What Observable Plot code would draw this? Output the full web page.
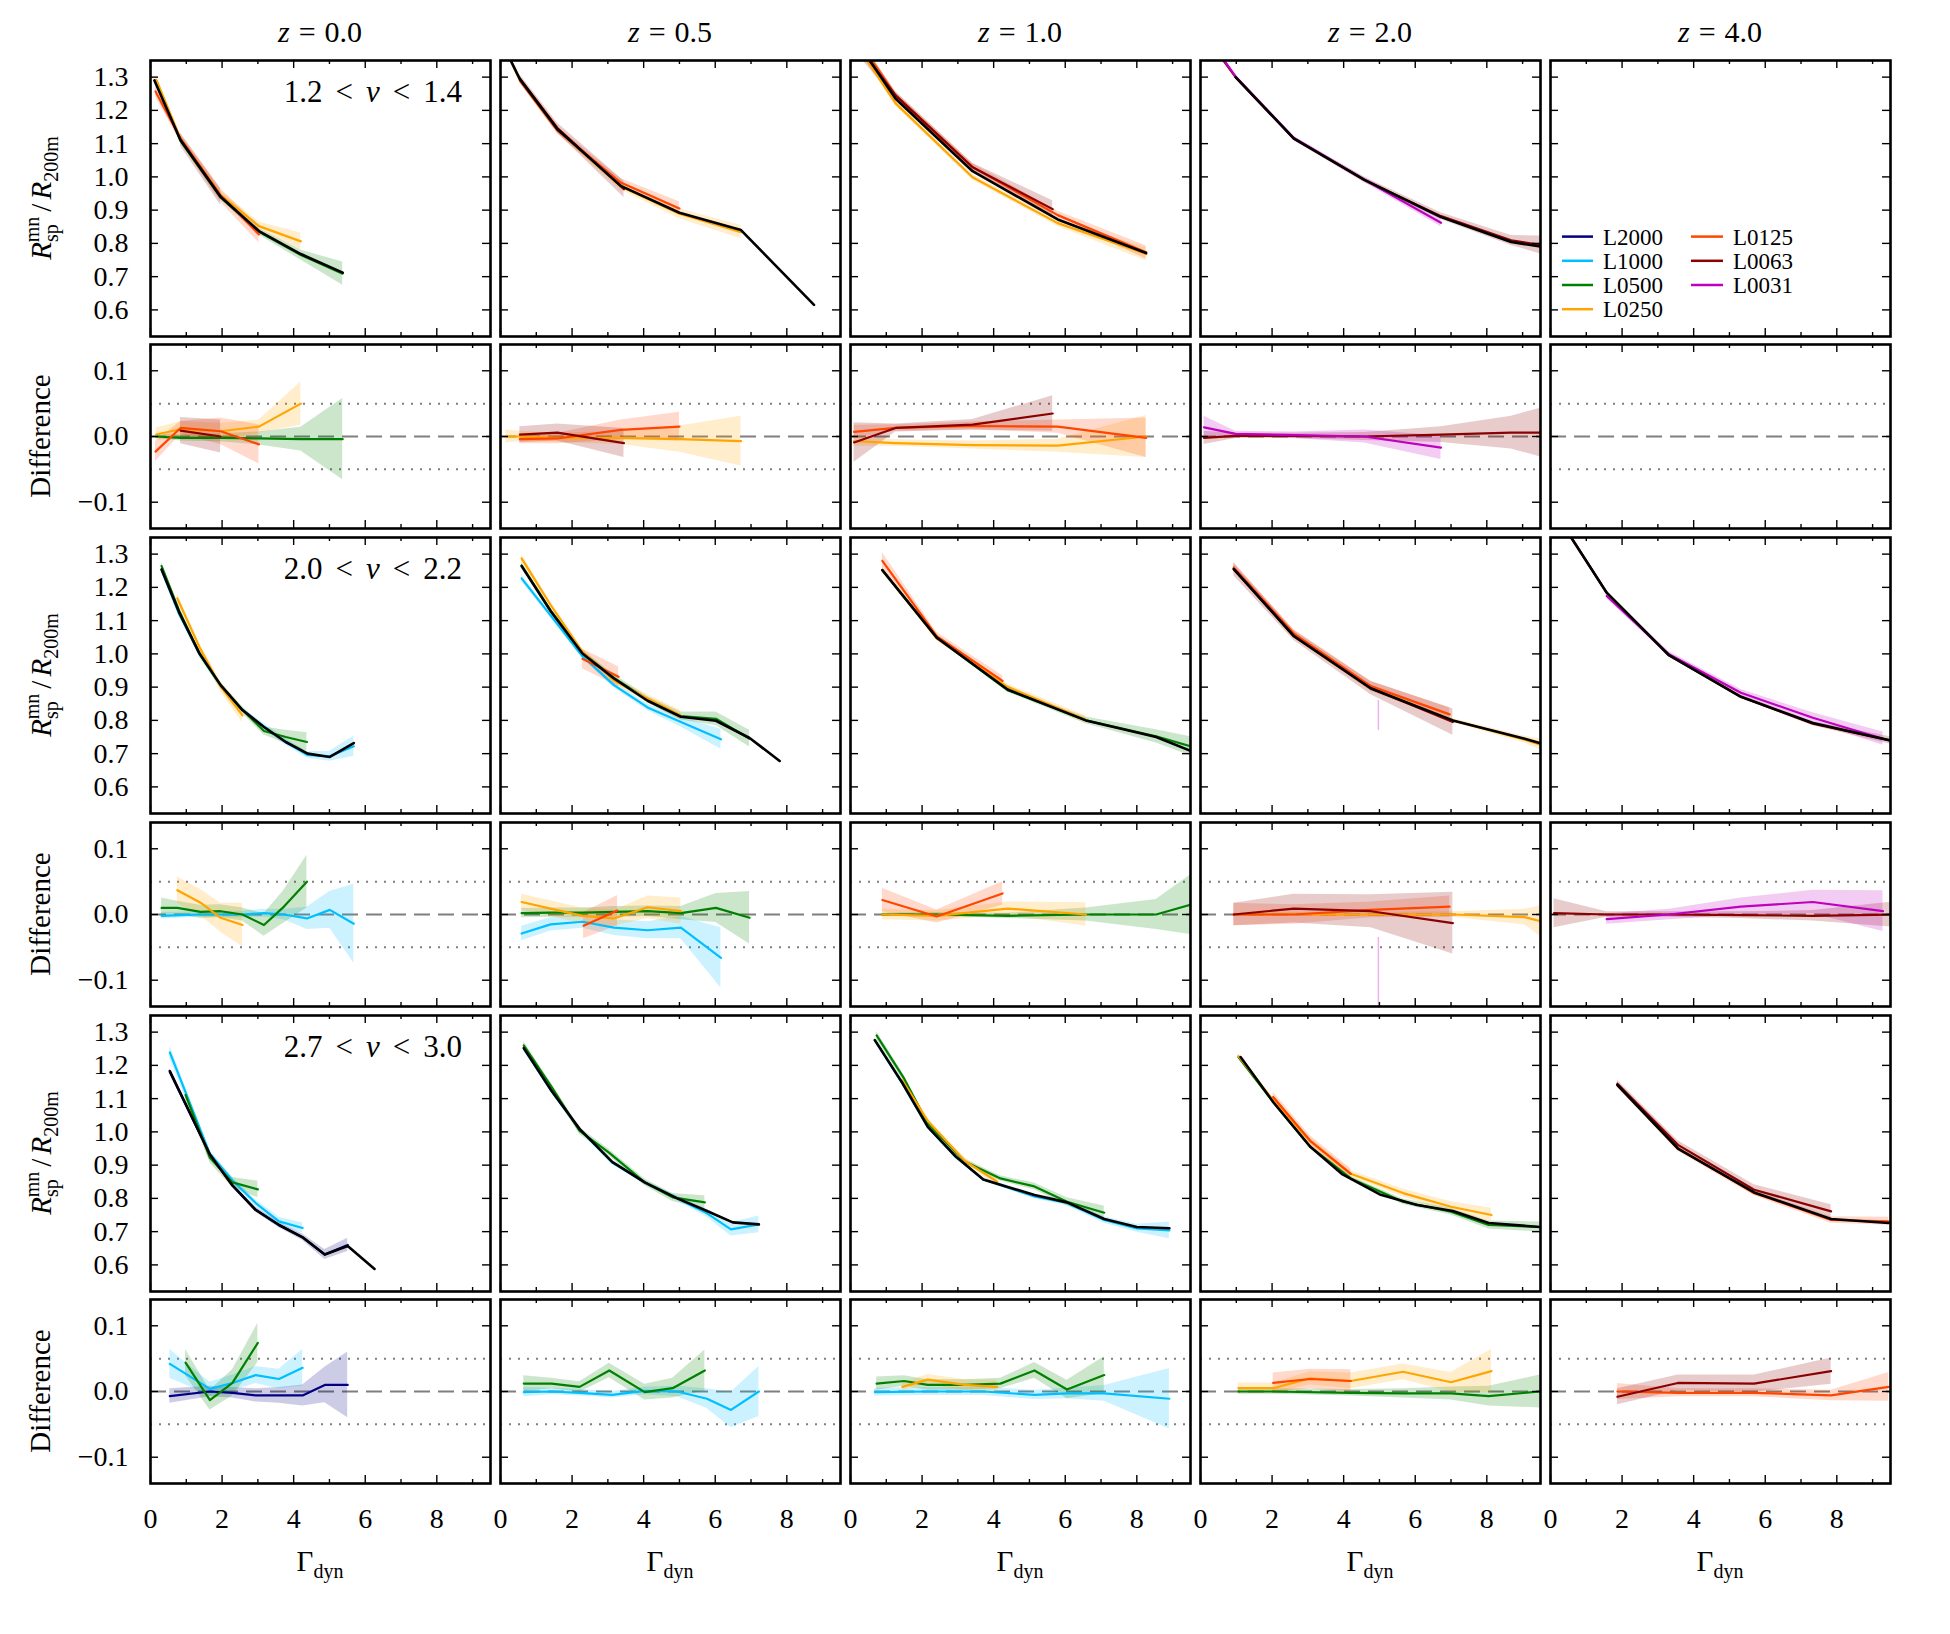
<!DOCTYPE html>
<html>
<head>
<meta charset="utf-8">
<script src="https://cdn.jsdelivr.net/npm/d3@7"></script>
<script src="https://cdn.jsdelivr.net/npm/@observablehq/plot@0.6"></script>
<style>
  body { margin: 0; background: #fff; }
  #fig { position: relative; width: 1950px; height: 1634px; background: #fff;
         font-family: "Liberation Serif", "DejaVu Serif", serif; }
  #fig svg { position: absolute; }
</style>
</head>
<body>
<div id="fig"></div>
<script>
// ---- categories and labels ----
const simNames  = ["L2000", "L1000", "L0500", "L0250", "L0125", "L0063", "L0031"];
const simColors = ["#000080", "#00bfff", "#008000", "#ffa500", "#ff4500", "#8b0000", "#bf00bf"];
const redshifts = ["0.0", "0.5", "1.0", "2.0", "4.0"];
const nuBins    = [["1.2", "1.4"], ["2.0", "2.2"], ["2.7", "3.0"]];
const ratioTicks = [0.6, 0.7, 0.8, 0.9, 1.0, 1.1, 1.2, 1.3];
const diffTicks  = [-0.1, 0.0, 0.1];
const gammaMajor = [0, 2, 4, 6, 8];
const gammaMinor = [1, 3, 5, 7, 9];
const gammaDomain = [0, 9.5];
const ratioDomain = [0.52, 1.35];
const diffDomain  = [-0.14, 0.14];

// Each series: [simulation, [[Gamma_dyn, value, half-width of band], ...]]
// "all" is the combined black curve (no band). Curves are drawn in listed order.

// ---- 1.2 < nu < 1.4 ----
const ratio_nu1_z00 = [
  ["L0500", [[0.16,1.289,0.005],[0.84,1.108,0.006],[1.96,0.938,0.007],[3.03,0.835,0.01],[4.2,0.765,0.015],[5.37,0.709,0.035]]],
  ["L0250", [[0.16,1.292,0.01],[0.84,1.115,0.012],[1.96,0.946,0.012],[3.03,0.852,0.012],[4.2,0.806,0.025]]],
  ["L0125", [[0.14,1.257,0.015],[0.84,1.115,0.012],[1.96,0.944,0.02],[3.03,0.827,0.025]]],
  ["L0063", [[0.84,1.112,0.02],[1.96,0.94,0.025]]],
  ["all",   [[0.11,1.29],[0.84,1.11],[1.96,0.94],[3.03,0.837],[4.2,0.768],[5.37,0.712]]]
];
const diff_nu1_z00 = [
  ["L0500", [[0.16,0,0.003],[0.84,-0.002,0.005],[1.96,-0.002,0.006],[3.03,-0.003,0.01],[4.2,-0.004,0.018],[5.37,-0.004,0.062]]],
  ["L0250", [[0.16,0.003,0.01],[0.84,0.011,0.012],[1.96,0.008,0.012],[3.03,0.015,0.01],[4.2,0.05,0.033]]],
  ["L0125", [[0.14,-0.023,0.015],[0.84,0.013,0.01],[1.96,0.008,0.02],[3.03,-0.012,0.03]]],
  ["L0063", [[0.84,0.009,0.02],[1.96,0.0,0.025]]]
];
const ratio_nu1_z05 = [
  ["L0250", [[0.15,1.38,0.01],[0.54,1.292,0.01],[1.59,1.142,0.01],[3.36,0.971,0.01],[5.0,0.889,0.015],[6.72,0.834,0.02]]],
  ["L0125", [[0.54,1.29,0.008],[1.59,1.14,0.01],[3.36,0.983,0.012],[5.0,0.905,0.02]]],
  ["L0063", [[0.54,1.296,0.012],[1.59,1.147,0.015],[3.45,0.963,0.025]]],
  ["all",   [[0.15,1.38],[0.54,1.294],[1.59,1.143],[3.36,0.973],[5.0,0.892],[6.72,0.84],[8.76,0.615]]]
];
const diff_nu1_z05 = [
  ["L0250", [[0.15,0,0.01],[0.54,0,0.008],[1.59,-0.002,0.007],[3.36,-0.002,0.01],[5.0,-0.004,0.02],[6.72,-0.007,0.038]]],
  ["L0125", [[0.54,-0.004,0.007],[1.59,-0.003,0.008],[3.36,0.01,0.015],[5.0,0.015,0.022]]],
  ["L0063", [[0.54,0.003,0.012],[1.59,0.006,0.013],[3.45,-0.01,0.022]]]
];
const ratio_nu1_z10 = [
  ["L0250", [[0.1,1.41,0.01],[1.26,1.221,0.008],[3.41,0.999,0.008],[5.79,0.861,0.01],[8.26,0.768,0.02]]],
  ["L0125", [[0.1,1.43,0.01],[1.26,1.245,0.01],[3.41,1.03,0.01],[5.79,0.885,0.012],[8.26,0.773,0.02]]],
  ["L0063", [[0.1,1.41,0.03],[1.26,1.245,0.012],[3.41,1.029,0.012],[5.65,0.903,0.025]]],
  ["all",   [[0.1,1.42],[1.26,1.235],[3.41,1.017],[5.79,0.872],[8.26,0.771]]]
];
const diff_nu1_z10 = [
  ["L0250", [[0.1,-0.007,0.008],[1.26,-0.01,0.005],[3.41,-0.013,0.006],[5.79,-0.014,0.01],[8.26,0,0.032]]],
  ["L0125", [[0.1,0.007,0.01],[1.26,0.013,0.005],[3.41,0.016,0.006],[5.79,0.015,0.01],[8.26,-0.002,0.03]]],
  ["L0063", [[0.1,-0.009,0.03],[1.26,0.013,0.006],[3.41,0.018,0.008],[5.65,0.035,0.027]]]
];
const ratio_nu1_z20 = [
  ["L0063", [[0.1,1.43,0.01],[0.98,1.30,0.005],[2.61,1.115,0.006],[4.58,0.991,0.008],[6.72,0.882,0.01],[8.68,0.809,0.015],[9.7,0.792,0.03]]],
  ["L0031", [[0.1,1.435,0.01],[0.98,1.302,0.005],[2.61,1.117,0.005],[4.58,0.991,0.008],[6.72,0.862,0.012]]],
  ["all",   [[0.98,1.30],[2.61,1.115],[4.58,0.991],[6.72,0.879],[8.68,0.804],[9.7,0.787]]]
];
const diff_nu1_z20 = [
  ["L0063", [[0.1,-0.002,0.01],[0.98,0.001,0.004],[2.61,0.001,0.004],[4.58,0,0.006],[6.72,0.003,0.012],[8.68,0.006,0.025],[9.7,0.006,0.04]]],
  ["L0031", [[0.1,0.014,0.017],[0.98,0.004,0.004],[2.61,0.002,0.005],[4.58,0,0.01],[6.72,-0.017,0.018]]]
];
const ratio_nu1_z40 = [];
const diff_nu1_z40 = [];

// ---- 2.0 < nu < 2.2 ----
const ratio_nu2_z00 = [
  ["L1000", [[0.31,1.252,0.005],[0.8,1.12,0.005],[1.37,1.0,0.005],[1.96,0.905,0.006],[2.57,0.831,0.006],[3.17,0.781,0.01],[3.78,0.735,0.01],[4.39,0.696,0.01],[5.01,0.692,0.015],[5.68,0.722,0.03]]],
  ["L0500", [[0.31,1.264,0.012],[0.8,1.13,0.01],[1.37,1.0,0.01],[1.96,0.905,0.01],[2.57,0.831,0.01],[3.17,0.768,0.012],[3.78,0.75,0.02],[4.37,0.735,0.028]]],
  ["L0250", [[0.75,1.167,0.012],[1.37,1.02,0.012],[1.96,0.902,0.015],[2.57,0.815,0.022]]],
  ["all",   [[0.31,1.254],[0.8,1.125],[1.37,1.001],[1.96,0.906],[2.57,0.831],[3.17,0.78],[3.78,0.735],[4.39,0.70],[5.01,0.69],[5.68,0.732]]]
];
const diff_nu2_z00 = [
  ["L1000", [[0.31,-0.002,0.005],[1.4,0,0.004],[2.57,0,0.005],[3.17,0.002,0.006],[3.73,0,0.008],[4.37,-0.006,0.017],[5.01,0.007,0.028],[5.68,-0.014,0.06]]],
  ["L0500", [[0.31,0.01,0.015],[0.75,0.01,0.01],[1.4,0.004,0.01],[1.96,0.005,0.01],[2.57,0,0.01],[3.17,-0.016,0.017],[3.73,0.012,0.025],[4.37,0.05,0.04]]],
  ["L0250", [[0.75,0.037,0.02],[1.4,0.018,0.02],[1.96,-0.005,0.022],[2.57,-0.016,0.033]]]
];
const ratio_nu2_z05 = [
  ["L1000", [[0.59,1.227,0.01],[1.4,1.116,0.008],[2.29,0.993,0.008],[3.17,0.906,0.008],[4.11,0.839,0.01],[5.04,0.795,0.015],[6.16,0.743,0.03]]],
  ["L0500", [[0.59,1.266,0.008],[1.4,1.13,0.008],[2.29,1.003,0.008],[3.17,0.928,0.01],[4.11,0.862,0.01],[5.04,0.813,0.012],[6.02,0.805,0.02],[6.96,0.745,0.025]]],
  ["L0250", [[0.59,1.287,0.012],[1.4,1.147,0.01],[2.29,1.006,0.01],[3.17,0.92,0.01],[4.11,0.866,0.012],[5.04,0.815,0.015]]],
  ["L0125", [[2.29,0.985,0.03],[3.3,0.931,0.03]]],
  ["all",   [[0.59,1.264],[1.4,1.129],[2.29,1.001],[3.17,0.926],[4.11,0.859],[5.04,0.811],[6.02,0.799],[6.96,0.747],[7.8,0.678]]]
];
const diff_nu2_z05 = [
  ["L1000", [[0.59,-0.029,0.011],[1.4,-0.015,0.01],[2.29,-0.011,0.01],[3.17,-0.02,0.012],[4.11,-0.024,0.013],[5.04,-0.02,0.017],[6.16,-0.066,0.046]]],
  ["L0500", [[0.59,0.002,0.007],[1.4,0.003,0.007],[2.29,0.003,0.007],[3.17,0.004,0.008],[4.11,0.005,0.008],[5.04,0.002,0.01],[6.02,0.01,0.022],[6.96,-0.005,0.04]]],
  ["L0250", [[0.59,0.019,0.012],[1.4,0.009,0.012],[2.29,-0.002,0.012],[3.17,-0.006,0.012],[4.11,0.011,0.017],[5.04,0.005,0.02]]],
  ["L0125", [[2.32,-0.017,0.02],[3.27,0.006,0.023]]]
];
const ratio_nu2_z10 = [
  ["L0500", [[0.89,1.252,0.005],[2.41,1.049,0.005],[4.39,0.891,0.006],[6.58,0.80,0.01],[8.54,0.752,0.02],[9.7,0.716,0.03]]],
  ["L0250", [[0.89,1.252,0.005],[2.41,1.047,0.006],[4.39,0.901,0.008],[6.58,0.802,0.012]]],
  ["L0125", [[0.89,1.28,0.025],[2.41,1.053,0.012],[4.25,0.919,0.015]]],
  ["all",   [[0.89,1.252],[2.41,1.049],[4.39,0.893],[6.58,0.80],[8.54,0.75],[9.7,0.70]]]
];
const diff_nu2_z10 = [
  ["L0500", [[0.89,0,0.002],[2.41,0,0.003],[4.39,-0.002,0.004],[6.58,0,0.01],[8.54,0,0.023],[9.7,0.018,0.05]]],
  ["L0250", [[0.89,0,0.008],[2.41,-0.002,0.008],[4.39,0.009,0.01],[6.58,0,0.018]]],
  ["L0125", [[0.89,0.022,0.018],[2.41,-0.003,0.01],[4.25,0.032,0.018]]]
];
const ratio_nu2_z20 = [
  ["L0250", [[0.93,1.255,0.005],[2.61,1.053,0.005],[4.76,0.896,0.005],[7.05,0.80,0.006],[9.06,0.742,0.01],[9.7,0.72,0.02]]],
  ["L0125", [[0.93,1.26,0.012],[2.61,1.061,0.012],[4.76,0.903,0.015],[6.96,0.818,0.02]]],
  ["L0063", [[0.93,1.255,0.02],[2.61,1.055,0.015],[4.76,0.897,0.02],[7.05,0.795,0.04]]],
  ["L0031", [[4.97,0.815,0.045]]],
  ["all",   [[0.93,1.255],[2.61,1.053],[4.76,0.896],[7.05,0.80],[9.06,0.745],[9.7,0.725]]]
];
const diff_nu2_z20 = [
  ["L0250", [[0.93,0,0.002],[2.61,0,0.003],[4.76,0,0.003],[7.05,0,0.004],[9.06,-0.004,0.012],[9.7,-0.013,0.028]]],
  ["L0125", [[0.93,0,0.017],[2.61,0,0.015],[4.76,0.007,0.012],[6.96,0.012,0.016]]],
  ["L0063", [[0.93,0,0.017],[2.61,0.009,0.022],[4.76,0.005,0.025],[7.05,-0.013,0.047]]],
  ["L0031", [[4.97,-0.1,0.065]]]
];
const ratio_nu2_z40 = [
  ["L0063", [[0.1,1.43,0.01],[1.57,1.184,0.005],[3.31,0.996,0.005],[5.32,0.871,0.005],[7.33,0.79,0.006],[9.7,0.735,0.012]]],
  ["L0031", [[1.57,1.174,0.008],[3.31,0.999,0.008],[5.32,0.883,0.01],[7.33,0.808,0.015],[9.29,0.745,0.02]]],
  ["all",   [[0.1,1.43],[1.57,1.184],[3.31,0.996],[5.32,0.871],[7.33,0.792],[9.7,0.735]]]
];
const diff_nu2_z40 = [
  ["L0063", [[0.1,0.002,0.022],[1.57,0,0.004],[3.31,0,0.004],[5.32,-0.001,0.005],[7.33,-0.002,0.008],[9.7,0,0.02]]],
  ["L0031", [[1.57,-0.007,0.008],[3.31,0,0.008],[5.32,0.012,0.013],[7.33,0.019,0.018],[9.29,0.005,0.031]]]
];

// ---- 2.7 < nu < 3.0 ----
const ratio_nu3_z00 = [
  ["L2000", [[0.54,1.18,0.006],[1.66,0.932,0.006],[2.29,0.839,0.006],[2.94,0.766,0.008],[3.59,0.72,0.008],[4.25,0.683,0.01],[4.87,0.631,0.015],[5.51,0.66,0.02]]],
  ["L1000", [[0.54,1.239,0.02],[1.66,0.934,0.01],[2.29,0.854,0.01],[2.94,0.786,0.01],[3.59,0.731,0.012],[4.25,0.711,0.015]]],
  ["L0500", [[0.98,1.111,0.015],[1.66,0.922,0.015],[2.29,0.848,0.015],[3.0,0.827,0.025]]],
  ["all",   [[0.54,1.183],[1.66,0.932],[2.29,0.839],[2.94,0.765],[3.59,0.72],[4.25,0.683],[4.87,0.631],[5.51,0.657],[6.26,0.588]]]
];
const diff_nu3_z00 = [
  ["L2000", [[0.54,-0.007,0.011],[1.66,0,0.008],[2.29,-0.002,0.008],[2.94,-0.006,0.01],[3.59,-0.006,0.012],[4.25,-0.006,0.016],[4.87,0.01,0.027],[5.51,0.01,0.05]]],
  ["L1000", [[0.54,0.042,0.022],[1.66,0.004,0.01],[2.29,0.013,0.012],[2.94,0.025,0.013],[3.59,0.019,0.015],[4.25,0.036,0.028]]],
  ["L0500", [[0.98,0.044,0.02],[1.66,-0.013,0.015],[2.29,0.013,0.02],[3.0,0.074,0.03]]]
];
const ratio_nu3_z05 = [
  ["L1000", [[0.65,1.25,0.005],[1.43,1.122,0.005],[2.21,1.007,0.005],[3.12,0.908,0.005],[4.03,0.848,0.006],[4.94,0.80,0.008],[5.77,0.755,0.012],[6.44,0.707,0.02],[7.22,0.722,0.025]]],
  ["L0500", [[0.65,1.26,0.012],[1.43,1.135,0.01],[2.21,1.003,0.01],[3.04,0.937,0.01],[4.03,0.848,0.01],[4.81,0.803,0.012],[5.71,0.788,0.02]]],
  ["all",   [[0.65,1.252],[1.43,1.123],[2.21,1.009],[3.12,0.91],[4.03,0.848],[4.94,0.80],[5.77,0.762],[6.49,0.728],[7.22,0.722]]]
];
const diff_nu3_z05 = [
  ["L1000", [[0.65,-0.001,0.007],[1.43,0,0.005],[2.21,-0.002,0.005],[3.12,-0.005,0.005],[4.03,0.001,0.006],[4.94,0,0.008],[5.77,-0.011,0.015],[6.44,-0.028,0.027],[7.22,0,0.038]]],
  ["L0500", [[0.65,0.012,0.012],[1.43,0.012,0.008],[2.21,0.007,0.008],[3.04,0.032,0.011],[4.03,-0.001,0.012],[4.81,0.005,0.015],[5.71,0.032,0.031]]]
];
const ratio_nu3_z10 = [
  ["L1000", [[0.68,1.275,0.005],[1.45,1.146,0.005],[2.16,1.015,0.005],[2.94,0.925,0.005],[3.71,0.857,0.005],[5.14,0.806,0.007],[6.05,0.786,0.008],[7.09,0.735,0.01],[8.0,0.71,0.012],[8.91,0.704,0.025]]],
  ["L0500", [[0.73,1.29,0.012],[1.5,1.16,0.01],[2.16,1.025,0.008],[3.2,0.91,0.008],[4.19,0.86,0.008],[5.14,0.836,0.01],[6.05,0.79,0.012],[7.09,0.757,0.02]]],
  ["L0250", [[1.45,1.155,0.008],[2.16,1.033,0.008],[3.19,0.913,0.01],[4.1,0.85,0.012]]],
  ["all",   [[0.68,1.276],[1.45,1.147],[2.16,1.015],[2.94,0.926],[3.71,0.857],[5.14,0.81],[6.05,0.788],[7.09,0.738],[8.0,0.714],[8.91,0.71]]]
];
const diff_nu3_z10 = [
  ["L1000", [[0.68,-0.001,0.006],[2.16,0,0.006],[3.71,0,0.006],[5.14,-0.005,0.007],[6.05,-0.003,0.008],[7.09,-0.003,0.012],[8.91,-0.011,0.046]]],
  ["L0500", [[0.73,0.012,0.01],[1.5,0.016,0.008],[2.16,0.01,0.008],[3.2,0.01,0.008],[4.19,0.012,0.008],[5.14,0.032,0.012],[6.05,0.003,0.014],[7.09,0.025,0.028]]],
  ["L0250", [[1.45,0.007,0.006],[2.16,0.018,0.008],[3.19,0.01,0.008],[4.1,0.007,0.01]]]
];
const ratio_nu3_z20 = [
  ["L0500", [[1.06,1.225,0.005],[2.03,1.09,0.005],[3.06,0.956,0.005],[4.2,0.86,0.006],[5.66,0.79,0.008],[7.0,0.76,0.01],[8.05,0.72,0.012],[9.48,0.714,0.015]]],
  ["L0250", [[1.06,1.228,0.008],[2.03,1.095,0.008],[3.06,0.972,0.01],[4.2,0.874,0.01],[5.66,0.816,0.012],[7.0,0.775,0.015],[8.13,0.75,0.02]]],
  ["L0125", [[2.03,1.105,0.015],[3.06,0.974,0.015],[4.2,0.874,0.015]]],
  ["all",   [[1.12,1.225],[2.03,1.09],[3.06,0.956],[3.97,0.872],[5.01,0.812],[6.05,0.78],[7.05,0.762],[8.05,0.726],[9.48,0.714]]]
];
const diff_nu3_z20 = [
  ["L0500", [[1.06,0,0.004],[2.03,0,0.004],[4.2,-0.002,0.005],[5.66,-0.003,0.007],[7.0,-0.003,0.01],[8.05,-0.007,0.015],[9.48,0,0.025]]],
  ["L0250", [[1.06,0.005,0.008],[2.03,0.005,0.008],[3.06,0.02,0.01],[4.2,0.016,0.012],[5.66,0.03,0.012],[7.0,0.014,0.015],[8.13,0.031,0.033]]],
  ["L0125", [[2.03,0.013,0.015],[3.06,0.019,0.015],[4.2,0.016,0.017]]]
];
const ratio_nu3_z40 = [
  ["L0125", [[1.87,1.141,0.008],[3.56,0.95,0.008],[5.69,0.816,0.008],[7.84,0.735,0.01],[9.45,0.731,0.012]]],
  ["L0063", [[1.87,1.145,0.01],[3.56,0.961,0.012],[5.69,0.826,0.015],[7.84,0.761,0.02]]],
  ["all",   [[1.87,1.141],[3.56,0.95],[5.69,0.818],[7.84,0.738],[9.45,0.726]]]
];
const diff_nu3_z40 = [
  ["L0125", [[1.87,0,0.012],[3.56,-0.002,0.006],[5.69,-0.002,0.006],[7.84,-0.006,0.008],[9.45,0.007,0.022]]],
  ["L0063", [[1.87,-0.008,0.012],[3.56,0.013,0.012],[5.69,0.012,0.013],[7.84,0.031,0.02]]]
];

const ratioGrid = [
  [ratio_nu1_z00, ratio_nu1_z05, ratio_nu1_z10, ratio_nu1_z20, ratio_nu1_z40],
  [ratio_nu2_z00, ratio_nu2_z05, ratio_nu2_z10, ratio_nu2_z20, ratio_nu2_z40],
  [ratio_nu3_z00, ratio_nu3_z05, ratio_nu3_z10, ratio_nu3_z20, ratio_nu3_z40]
];
const diffGrid = [
  [diff_nu1_z00, diff_nu1_z05, diff_nu1_z10, diff_nu1_z20, diff_nu1_z40],
  [diff_nu2_z00, diff_nu2_z05, diff_nu2_z10, diff_nu2_z20, diff_nu2_z40],
  [diff_nu3_z00, diff_nu3_z05, diff_nu3_z10, diff_nu3_z20, diff_nu3_z40]
];

// ---- layout ----
const fig = document.getElementById("fig");
const FONT = "'Liberation Serif', 'DejaVu Serif', serif";
const FRAME_W = 340, COL_STEP = 350, COL0 = 150;
const rowTops = [60, 344, 537, 822, 1015, 1299];
const RATIO_H = 276, DIFF_H = 184;
const MAJOR = 8, MINOR = 4;

const colorOf = sim => sim === "all" ? "#000000" : simColors[simNames.indexOf(sim)];
const fmtTick = d => d.toFixed(1).replace("-", "\u2212");
const gx = d => d[0], gy = d => d[1];

function drawPanel(series, isDiff, row, col) {
  const h = isDiff ? DIFF_H : RATIO_H;
  const showY = col === 0, showX = row === 5;
  const ml = showY ? 100 : 4, mr = 4, mt = 4, mb = showX ? 60 : 4;
  const yTicks = isDiff ? diffTicks : ratioTicks;
  const marks = [];

  if (isDiff) {
    marks.push(Plot.ruleY([0], {stroke: "#7f7f7f", strokeWidth: 2, strokeDasharray: "16,8"}));
    marks.push(Plot.ruleY([-0.05, 0.05], {stroke: "#7f7f7f", strokeWidth: 2, strokeDasharray: "2,7"}));
  }
  // shaded bands
  for (const [sim, pts] of series) {
    if (sim === "all") continue;
    if (pts.length === 1) {
      marks.push(Plot.ruleX(pts, {x: gx, y1: d => d[1] - d[2], y2: d => d[1] + d[2],
        stroke: colorOf(sim), strokeOpacity: 0.3, strokeWidth: 1.5, clip: true}));
    } else {
      marks.push(Plot.areaY(pts, {x: gx, y1: d => d[1] - d[2], y2: d => d[1] + d[2],
        fill: colorOf(sim), fillOpacity: 0.2, clip: true}));
    }
  }
  // curves in listed order (combined black curve drawn with a heavier stroke)
  for (const [sim, pts] of series) {
    if (pts.length < 2) continue;
    const all = sim === "all";
    marks.push(Plot.line(pts, {x: gx, y: gy, stroke: colorOf(sim), strokeWidth: all ? 2.6 : 2.2, clip: true}));
  }
  // inward ticks on all four sides
  const tickStyle = {stroke: "#000", strokeWidth: 1.4};
  marks.push(Plot.ruleY(yTicks, {y: d => d, insetRight: FRAME_W - MAJOR, ...tickStyle}));
  marks.push(Plot.ruleY(yTicks, {y: d => d, insetLeft: FRAME_W - MAJOR, ...tickStyle}));
  marks.push(Plot.ruleX(gammaMajor, {x: d => d, insetTop: h - MAJOR, ...tickStyle}));
  marks.push(Plot.ruleX(gammaMajor, {x: d => d, insetBottom: h - MAJOR, ...tickStyle}));
  marks.push(Plot.ruleX(gammaMinor, {x: d => d, insetTop: h - MINOR, ...tickStyle}));
  marks.push(Plot.ruleX(gammaMinor, {x: d => d, insetBottom: h - MINOR, ...tickStyle}));
  marks.push(Plot.frame({stroke: "#000", strokeWidth: 2.6}));

  if (showY) {
    marks.push(Plot.text(yTicks, {y: d => d, text: fmtTick, frameAnchor: "left", dx: -22,
      textAnchor: "end", fontSize: 28, fill: "#000"}));
  }
  if (showX) {
    marks.push(Plot.text(gammaMajor, {x: d => d, text: d => String(d), frameAnchor: "bottom",
      dy: 25, lineAnchor: "top", fontSize: 28, fill: "#000"}));
  }

  const svg = Plot.plot({
    width: FRAME_W + ml + mr,
    height: h + mt + mb,
    marginLeft: ml, marginRight: mr, marginTop: mt, marginBottom: mb,
    x: {type: "linear", domain: gammaDomain, axis: null},
    y: {type: "linear", domain: isDiff ? diffDomain : ratioDomain, axis: null},
    style: {fontFamily: FONT, fontSize: "28px", background: "transparent", overflow: "visible", maxWidth: "none"},
    marks
  });
  svg.style.left = (COL0 + COL_STEP * col - ml) + "px";
  svg.style.top = (rowTops[row] - mt) + "px";
  fig.appendChild(svg);
}

for (let b = 0; b < 3; ++b) {
  for (let c = 0; c < 5; ++c) {
    drawPanel(ratioGrid[b][c], false, 2 * b, c);
    drawPanel(diffGrid[b][c], true, 2 * b + 1, c);
  }
}

// ---- titles, axis labels, bin labels and legend ----
const over = d3.select(fig).append("svg")
  .attr("width", 1950).attr("height", 1634)
  .style("left", "0px").style("top", "0px")
  .style("pointer-events", "none")
  .attr("font-family", FONT)
  .style("font-family", FONT);

redshifts.forEach((z, c) => {
  const cx = COL0 + COL_STEP * c + FRAME_W / 2;
  const t = over.append("text").attr("x", cx).attr("y", 42)
    .attr("text-anchor", "middle").attr("font-size", 30);
  t.append("tspan").attr("font-style", "italic").text("z");
  t.append("tspan").attr("dx", 9).text("=");
  t.append("tspan").attr("dx", 9).text(z);

  const g = over.append("text").attr("x", cx).attr("y", 1571)
    .attr("text-anchor", "middle").attr("font-size", 29);
  g.append("tspan").text("\u0393");
  g.append("tspan").attr("font-size", 20).attr("dy", 7).text("dyn");
});

nuBins.forEach(([lo, hi], b) => {
  const top = rowTops[2 * b];
  const t = over.append("text").attr("x", COL0 + FRAME_W - 28).attr("y", top + 42)
    .attr("text-anchor", "end").attr("font-size", 31);
  t.append("tspan").text(lo);
  t.append("tspan").attr("dx", 13).text("<");
  t.append("tspan").attr("dx", 13).attr("font-style", "italic").text("\u03BD");
  t.append("tspan").attr("dx", 13).text("<");
  t.append("tspan").attr("dx", 13).text(hi);

  // ratio axis label
  const cyR = top + RATIO_H / 2;
  const r = over.append("text").attr("transform", `translate(51,${cyR}) rotate(-90)`)
    .attr("text-anchor", "middle").attr("font-size", 29);
  r.append("tspan").attr("font-style", "italic").text("R");
  r.append("tspan").attr("font-size", 20).attr("dy", 7).text("sp");
  r.append("tspan").attr("font-size", 20).attr("dx", -18).attr("dy", -19).text("mn");
  r.append("tspan").attr("dy", 12).attr("dx", 5).text("/");
  r.append("tspan").attr("font-style", "italic").attr("dx", 4).text("R");
  r.append("tspan").attr("font-size", 20).attr("dy", 7).text("200m");

  // difference axis label
  const cyD = rowTops[2 * b + 1] + DIFF_H / 2;
  over.append("text").attr("transform", `translate(50,${cyD}) rotate(-90)`)
    .attr("text-anchor", "middle").attr("font-size", 29).text("Difference");
});

// legend inside the top-right panel
const legendCols = [[0, 1, 2, 3], [4, 5, 6]];
const legX = [[1562, 1593, 1603], [1691, 1723, 1733]];
legendCols.forEach((idxs, k) => {
  idxs.forEach((i, j) => {
    const cy = 236.6 + 24.2 * j;
    over.append("line").attr("x1", legX[k][0]).attr("x2", legX[k][1])
      .attr("y1", cy).attr("y2", cy).attr("stroke", simColors[i]).attr("stroke-width", 2.5);
    over.append("text").attr("x", legX[k][2]).attr("y", cy + 8)
      .attr("font-size", 23).text(simNames[i]);
  });
});
</script>
</body>
</html>
